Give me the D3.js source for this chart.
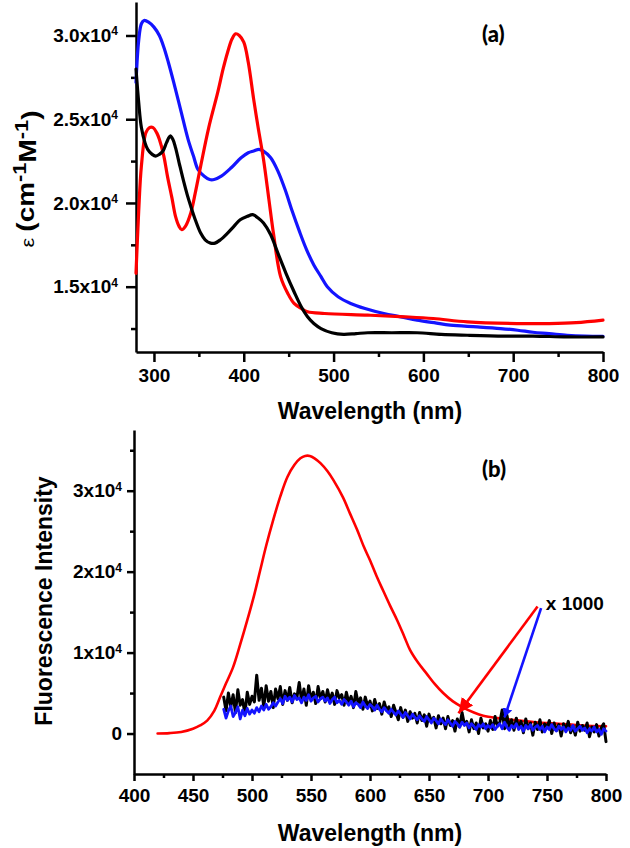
<!DOCTYPE html>
<meta charset="utf-8">
<script src="https://cdn.jsdelivr.net/npm/d3@7"></script>
<style>
body {margin: 0; background: #fff;}
text {font-family: "Liberation Sans", Arial, sans-serif; font-weight: bold; fill: #000;}
.tick text {font-size: 19px;}
.axis path, .axis line {stroke: #000; stroke-width: 2.5px;}
.curve {fill: none; stroke-linejoin: round; stroke-linecap: round;}
.title {font-size: 23px;}
.panel-label {font-family: Lato, "Open Sans", sans-serif; font-size: 22px; font-weight: 900;}
.note {font-size: 19px;}
</style>

<div id="vis"></div>

<script>

// ---- panel (a): absorption, epsilon in units of 1e4 cm-1 M-1
const absBlue = [[280,2.72],[283,2.97],[286,3.07],[289,3.09],[294,3.08],[300,3.05],[306,3.0],[311,2.93],
  [316,2.84],[322,2.72],[330,2.55],[338,2.38],[344,2.28],[349,2.2],[356,2.16],[362,2.14],[367,2.14],
  [375,2.16],[386,2.21],[397,2.27],[405,2.30],[411,2.31],[417,2.32],[422,2.31],[430,2.27],[438,2.19],
  [446,2.08],[454,1.95],[462,1.83],[470,1.72],[478,1.63],[486,1.56],[493,1.50],[505,1.44],[519,1.4],
  [535,1.37],[556,1.34],[575,1.32],[593,1.30],[612,1.285],[630,1.27],[660,1.26],[686,1.25],[705,1.24],
  [722,1.228],[740,1.22],[760,1.21],[780,1.205],[800,1.204]];

const absRed = [[280,1.58],[283,1.95],[286,2.22],[291,2.42],[295,2.45],[299,2.45],[303,2.42],[306,2.38],
  [311,2.28],[315,2.16],[320,2.03],[324,1.92],[328,1.86],[331,1.84],[335,1.86],[341,1.94],[346,2.06],
  [352,2.22],[361,2.45],[371,2.66],[377,2.80],[382,2.90],[387,2.98],[391,3.01],[395,3.0],[400,2.96],
  [405,2.84],[411,2.62],[416,2.45],[422,2.26],[428,2.02],[433,1.82],[441,1.56],[449,1.46],[456,1.4],
  [464,1.37],[471,1.35],[490,1.34],[538,1.33],[580,1.32],[611,1.31],[649,1.29],[704,1.28],[740,1.28],
  [770,1.285],[800,1.30]];

const absBlack = [[280,2.8],[283,2.60],[286,2.45],[290,2.36],[293,2.32],[298,2.29],[302,2.28],[306,2.29],
  [310,2.31],[314,2.36],[318,2.40],[321,2.38],[324,2.33],[328,2.24],[333,2.13],[337,2.05],[341,1.98],
  [346,1.9],[352,1.82],[357,1.78],[363,1.76],[368,1.76],[374,1.78],[382,1.82],[389,1.86],[396,1.90],
  [404,1.92],[410,1.93],[416,1.91],[422,1.88],[430,1.81],[438,1.70],[447,1.58],[456,1.47],[464,1.38],
  [471,1.32],[478,1.28],[486,1.25],[498,1.225],[511,1.215],[525,1.22],[538,1.225],[565,1.225],
  [593,1.225],[620,1.215],[649,1.21],[690,1.205],[722,1.205],[760,1.2],[800,1.2]];

const absXTicks = [300, 400, 500, 600, 700, 800];
const absXMinor = [350, 450, 550, 650, 750];
const absYTicks = [1.5, 2.0, 2.5, 3.0];
const absYLabels = ["1.5x10", "2.0x10", "2.5x10", "3.0x10"];
const absYMinor = [1.25, 1.75, 2.25, 2.75];

// ---- panel (b): fluorescence, intensity in units of 1e3
const emRed = [[420,0],[430,0.05],[440,0.2],[450,0.6],[456,1.0],[462,1.6],[468,2.8],[473,4.5],[478,6.2],
  [484,8.2],[490,11.0],[496,14.0],[502,17.2],[507,20.2],[512,23.2],[518,26.4],[524,29.3],[530,31.7],
  [536,33.2],[541,34.0],[545,34.3],[549,34.3],[553,34.0],[558,33.4],[564,32.4],[569,31.3],[577,29.2],
  [583,27.2],[589,25.2],[595,23.0],[600,21.4],[606,19.3],[611,17.7],[617,15.8],[623,14.0],[629,12.0],
  [634,10.3],[641,8.7],[648,7.4],[655,6.1],[662,5.0],[670,4.0],[679,3.2],[688,2.6],[696,2.2],[708,1.9],
  [720,1.7],[740,1.4],[760,1.2],[780,1.0],[800,0.9]];

// x1000 spectra, sampled every 2 nm from 476 to 800
const emWavelengths = d3.range(476, 801, 2);
const emBlack = [4.5,2.8,5.0,3.3,4.8,2.6,5.4,3.5,4.2,2.4,5.1,3.6,4.6,
  3.9,7.2,4.1,5.6,3.3,5.9,4.0,5.2,3.2,5.5,
  4.3,5.8,3.6,5.3,4.1,5.7,3.8,4.9,4.4,6.3,
  4.0,5.5,3.5,5.9,4.2,5.1,3.7,5.8,4.3,5.2,
  3.9,5.4,4.1,5.0,3.6,5.3,4.4,4.8,3.5,5.1,
  3.8,4.6,3.2,5.2,3.7,4.4,3.0,4.5,3.4,4.0,
  2.8,4.2,3.1,3.7,2.4,3.9,2.9,3.3,2.1,3.5,
  2.6,1.7,3.2,2.0,2.9,1.5,2.7,1.9,2.5,1.3,
  2.6,1.6,2.3,0.9,2.4,1.5,2.0,0.7,2.2,1.2,
  1.9,0.6,2.1,1.0,1.6,0.3,1.8,0.8,2.6,1.1,
  1.5,0.2,1.7,0.6,1.3,0.0,1.9,0.7,1.2,0.3,
  1.6,0.5,2.1,0.9,1.4,2.9,0.6,2.3,0.8,1.7,
  0.4,1.9,0.7,1.5,0.1,1.8,0.6,1.3,-0.2,1.4,
  0.5,1.7,0.2,1.2,0.8,1.6,0.0,1.3,0.4,1.1,
  -0.3,1.2,0.5,1.5,0.1,0.9,-0.2,1.4,0.3,1.0,
  0.4,1.3,-0.4,0.8,0.2,1.1,-0.3,0.7,1.2,-1.0];
const emBlue = [3.0,1.9,2.8,3.4,2.1,2.6,3.3,1.8,2.9,2.2,3.1,2.4,2.9,
  2.5,3.2,2.7,3.4,2.9,3.6,3.0,3.3,3.8,3.4,
  3.9,4.3,3.7,4.6,4.1,4.5,3.9,4.7,4.2,4.4,
  3.8,4.5,4.1,4.8,4.0,4.4,4.6,3.9,4.3,4.5,
  4.0,4.4,3.7,4.2,4.5,3.8,4.1,3.6,4.2,3.9,
  3.5,4.0,3.3,3.8,3.6,3.2,3.9,3.4,3.1,3.6,
  3.3,2.9,3.5,3.0,2.7,3.2,2.8,2.5,3.0,2.6,
  2.3,2.8,2.4,2.0,2.6,2.2,1.8,2.4,2.0,1.7,
  2.2,1.8,1.5,2.1,1.7,1.3,1.9,1.6,1.2,1.8,
  1.4,1.1,1.7,1.3,0.9,1.5,1.2,0.8,1.4,1.0,
  1.3,0.7,1.2,0.9,0.5,1.1,0.8,1.2,0.6,1.0,
  0.7,1.1,0.5,0.9,1.2,0.6,1.4,0.8,0.4,1.0,
  0.7,1.2,0.5,0.9,0.3,1.0,0.6,1.1,0.4,0.8,
  1.0,0.5,0.9,0.2,0.8,0.5,1.1,0.6,0.3,0.9,
  0.5,0.8,0.2,0.7,0.4,1.0,0.3,0.6,0.9,0.4,
  0.7,0.1,0.6,0.3,0.8,0.2,0.5,-0.1,0.6,0.3];

const emXTicks = [400, 450, 500, 550, 600, 650, 700, 750, 800];
const emXMinor = [425, 475, 525, 575, 625, 675, 725, 775];
const emYTicks = [0, 10, 20, 30];
const emYLabels = ["0", "1x10", "2x10", "3x10"];
const emYMinor = [5, 15, 25, 35];

// "x 1000" pointer arrows [start, tip]
const arrowRed = [[742, 15.7], [675, 2.5]];
const arrowBlue = [[745, 15.5], [714, 2.0]];

const red = "#ff0000", blue = "#1414ff", black = "#000";

let svg = d3.select("#vis")
  .append("svg")
    .attr("width", 630)
    .attr("height", 848);

let defs = svg.append("defs");
defs.append("marker")
    .attr("id", "head-red")
    .attr("viewBox", "-15 -7 15 14")
    .attr("markerUnits", "userSpaceOnUse")
    .attr("markerWidth", 15).attr("markerHeight", 14)
    .attr("orient", "auto")
  .append("path").attr("d", "M0,0L-15,-7L-15,7Z").attr("fill", red);
defs.append("marker")
    .attr("id", "head-blue")
    .attr("viewBox", "-9 -5 9 10")
    .attr("markerUnits", "userSpaceOnUse")
    .attr("markerWidth", 9).attr("markerHeight", 10)
    .attr("orient", "auto")
  .append("path").attr("d", "M0,0L-9,-5L-9,5Z").attr("fill", blue);

function panel(c) {
  const x = d3.scaleLinear().domain(c.xDomain).range(c.xRange);
  const y = d3.scaleLinear().domain(c.yDomain).range(c.yRange);
  const x0 = c.xRange[0], y0 = c.yRange[0];

  // minor ticks
  svg.append("g").attr("class", "axis")
      .attr("transform", "translate(0," + y0 + ")")
      .call(d3.axisBottom(x).tickValues(c.xMinor).tickSize(c.minor).tickFormat(""))
      .call(g => g.select(".domain").remove());
  svg.append("g").attr("class", "axis")
      .attr("transform", "translate(" + x0 + ",0)")
      .call(d3.axisLeft(y).tickValues(c.yMinor).tickSize(c.minor).tickFormat(""))
      .call(g => g.select(".domain").remove());

  // major ticks
  svg.append("g").attr("class", "axis")
      .attr("transform", "translate(0," + y0 + ")")
      .call(d3.axisBottom(x).tickValues(c.xTicks).tickSize(c.major).tickSizeOuter(0))
      .call(g => g.selectAll(".tick text").attr("y", c.xLabelY).attr("dy", 0));

  svg.append("g").attr("class", "axis")
      .attr("transform", "translate(" + x0 + ",0)")
      .call(d3.axisLeft(y).tickValues(c.yTicks).tickSize(c.major).tickSizeOuter(0)
              .tickPadding(c.yPad).tickFormat(""))
      .call(g => g.selectAll(".tick text").each(function(d, i) {
        const t = d3.select(this);
        t.append("tspan").text(c.yLabels[i]);
        if (c.yLabels[i] !== "0")
          t.append("tspan").attr("dy", "-0.55em").style("font-size", "12px").text("4");
      }));

  // curves
  c.series.forEach(s => {
    svg.append("path")
        .datum(s.data)
        .attr("class", "curve")
        .attr("stroke", s.color)
        .attr("stroke-width", s.width)
        .attr("d", d3.line()
            .x(d => x(d[0]))
            .y(d => y(d[1]))
            .curve(s.smooth ? d3.curveCatmullRom.alpha(0.5) : d3.curveLinear));
  });

  return {x, y};
}

// panel (a)
const pa = panel({
  xDomain: [280, 800], xRange: [136, 603],
  yDomain: [1.11, 3.2], yRange: [352, 2],
  xTicks: absXTicks, xMinor: absXMinor, yTicks: absYTicks, yMinor: absYMinor,
  yLabels: absYLabels, major: 10, minor: 5, yPad: 8, xLabelY: 30,
  series: [
    {data: absBlue, color: blue, width: 3.2, smooth: true},
    {data: absRed, color: red, width: 3.2, smooth: true},
    {data: absBlack, color: black, width: 3.2, smooth: true}
  ]
});

// panel (b)
const pb = panel({
  xDomain: [400, 800], xRange: [134, 606],
  yDomain: [-5, 37.5], yRange: [774, 430],
  xTicks: emXTicks, xMinor: emXMinor, yTicks: emYTicks, yMinor: emYMinor,
  yLabels: emYLabels, major: 7, minor: 4, yPad: 5, xLabelY: 28,
  series: [
    {data: emRed, color: red, width: 2.6, smooth: true},
    {data: emWavelengths.map((w, i) => [w, emBlack[i]]), color: black, width: 3, smooth: false},
    {data: emWavelengths.map((w, i) => [w, emBlue[i]]), color: blue, width: 2.8, smooth: false}
  ]
});

// arrows
[[arrowRed, red, "head-red"], [arrowBlue, blue, "head-blue"]].forEach(([a, col, m]) => {
  svg.append("line")
      .attr("x1", pb.x(a[0][0])).attr("y1", pb.y(a[0][1]))
      .attr("x2", pb.x(a[1][0])).attr("y2", pb.y(a[1][1]))
      .attr("stroke", col).attr("stroke-width", 2.6)
      .attr("marker-end", "url(#" + m + ")");
});

svg.append("text").attr("class", "note")
    .attr("x", pb.x(749)).attr("y", 610)
    .text("x 1000");

// panel letters
svg.append("text").attr("class", "panel-label").attr("x", 482).attr("y", 42).text("(a)");
svg.append("text").attr("class", "panel-label").attr("x", 482).attr("y", 477).text("(b)");

// axis titles
svg.append("text").attr("class", "title").attr("text-anchor", "middle")
    .attr("x", 370).attr("y", 419).text("Wavelength (nm)");
svg.append("text").attr("class", "title").attr("text-anchor", "middle")
    .attr("x", 370).attr("y", 841).text("Wavelength (nm)");

let ya = svg.append("text").attr("class", "title").attr("text-anchor", "middle")
    .attr("transform", "translate(34,179) rotate(-90)")
    .attr("textLength", 137).attr("lengthAdjust", "spacingAndGlyphs");
ya.append("tspan").style("font-weight", "normal").style("font-size", "18px").text("ε ");
ya.append("tspan").text("(cm");
ya.append("tspan").attr("dy", "-0.45em").style("font-size", "18px").text("-1");
ya.append("tspan").attr("dy", "0.45em").text("M");
ya.append("tspan").attr("dy", "-0.45em").style("font-size", "18px").text("-1");
ya.append("tspan").attr("dy", "0.45em").text(")");

svg.append("text").attr("class", "title").attr("text-anchor", "middle")
    .attr("transform", "translate(52,601) rotate(-90)")
    .text("Fluorescence Intensity");

</script>
